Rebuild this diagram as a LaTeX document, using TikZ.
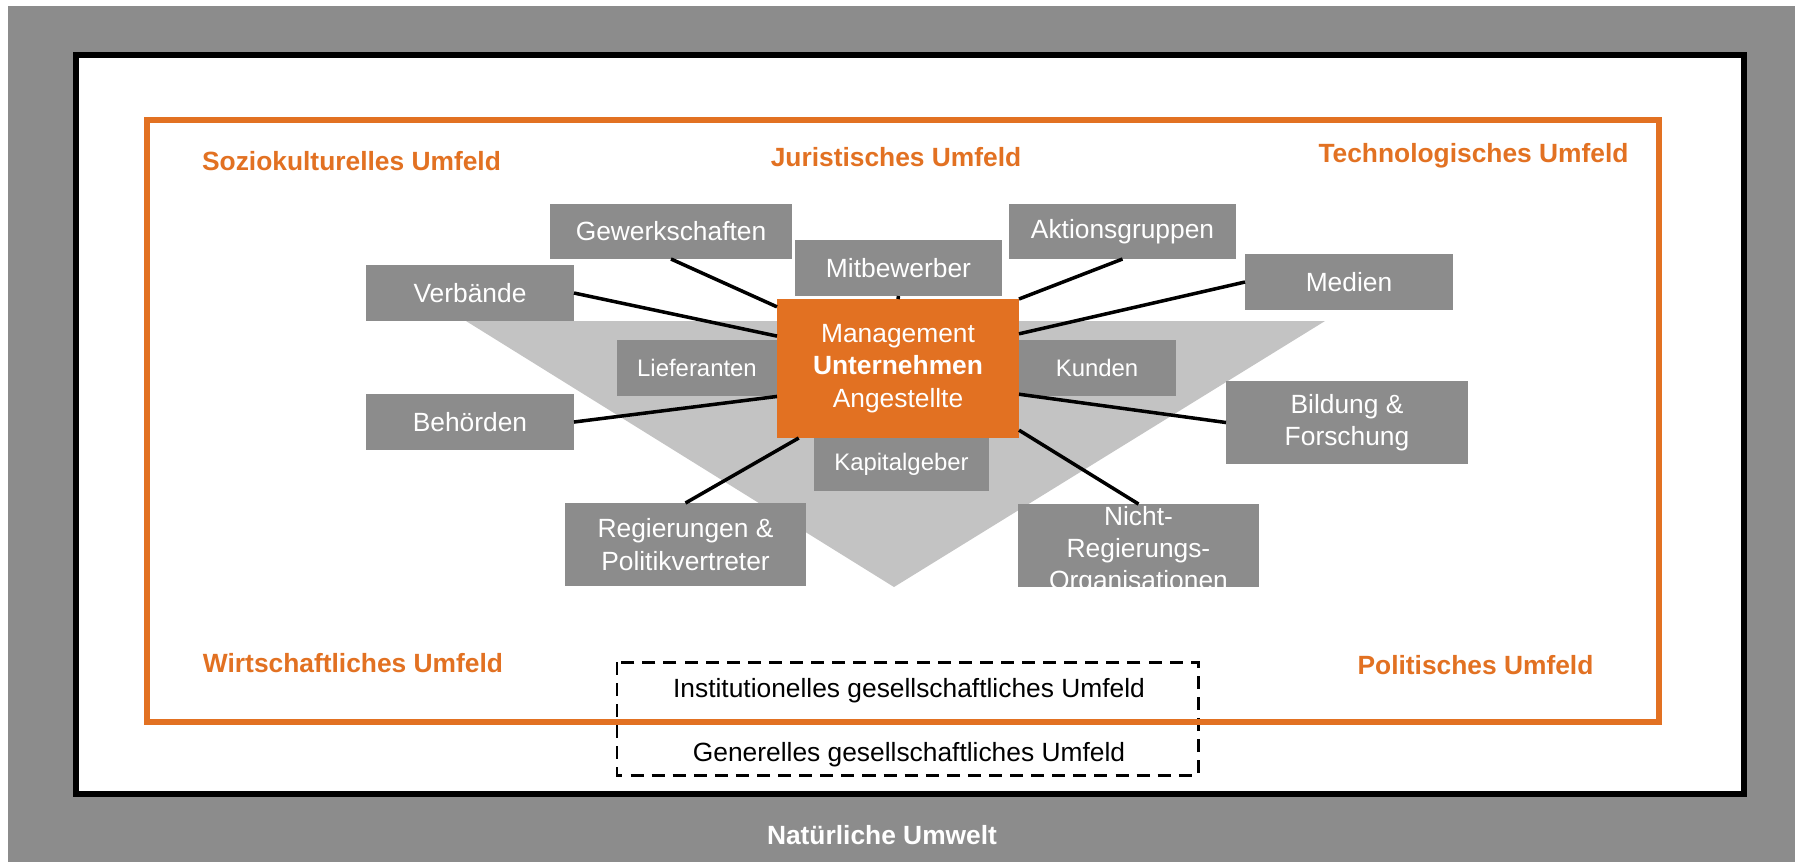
\documentclass[tikz,border=0pt]{standalone}
\usepackage{fontspec}
\setmainfont{Liberation Sans}

\definecolor{umorange}{RGB}{226,113,34}
\definecolor{umgrey}{RGB}{140,140,140}
\definecolor{umlight}{RGB}{195,195,195}

\newcommand{\umfont}{\fontsize{7.5pt}{9.2pt}\selectfont}
\newcommand{\umsmall}{\fontsize{6.8pt}{8.4pt}\selectfont}

\tikzset{
  gruppe/.style={fill=umgrey,text=white,font=\umfont,align=center,inner sep=0pt,outer sep=0pt},
  feld/.style={text=umorange,font=\umfont\bfseries,anchor=base},
  verbindung/.style={line width=1pt}
}

\begin{document}
\begin{tikzpicture}
    \useasboundingbox (0,0) rectangle (17.95,-8.62);

    % The natural environment and the society frame
    \fill[umgrey] (0.08,-0.06) rectangle (17.95,-8.62);
    \draw[line width=1.7pt,fill=white] (0.76,-0.545) rectangle (17.44,-7.94);

    % The dashed box and the orange frame
    \draw[line width=0.85pt,dash pattern=on 3.7pt off 2.3pt] (6.17,-6.62) rectangle (11.98,-7.75);
    \draw[umorange,line width=1.5pt] (1.47,-1.20) rectangle (16.59,-7.22);

    % The grey triangle
    \fill[umlight] (4.66,-3.21) -- (13.25,-3.21) -- (8.94,-5.87) -- cycle;

    % The orange labels
    \node[feld] (sozio) at (3.515,-1.70) {Soziokulturelles Umfeld};
    \node[feld] (jur) at (8.96,-1.66) {Juristisches Umfeld};
    \node[feld] (tech) at (14.735,-1.62) {Technologisches Umfeld};
    \node[feld] (wirt) at (3.53,-6.72) {Wirtschaftliches Umfeld};
    \node[feld] (pol) at (14.755,-6.74) {Politisches Umfeld};

    % The texts at the bottom
    \node[anchor=base,font=\umfont] (inst) at (9.09,-6.97) {Institutionelles gesellschaftliches Umfeld};
    \node[anchor=base,font=\umfont] (gen) at (9.09,-7.61) {Generelles gesellschaftliches Umfeld};
    \node[anchor=base,font=\umfont\bfseries,text=white] (natur) at (8.82,-8.44) {Natürliche Umwelt};

    % The stakeholder boxes
    \node[gruppe,minimum width=2.42cm,minimum height=0.55cm] (gew) at (6.71,-2.315) {Gewerkschaften};
    \node[gruppe,minimum width=2.08cm,minimum height=0.56cm] (verb) at (4.70,-2.93) {Verbände};
    \node[gruppe,minimum width=2.07cm,minimum height=0.56cm] (mitb) at (8.985,-2.68) {Mitbewerber};
    \node[gruppe,minimum width=2.27cm,minimum height=0.55cm] (akt) at (11.225,-2.315) {Aktionsgruppen};
    \node[gruppe,minimum width=2.08cm,minimum height=0.56cm] (med) at (13.49,-2.82) {Medien};
    \node[gruppe,font=\umsmall,minimum width=1.60cm,minimum height=0.56cm] (lief) at (6.97,-3.68) {Lieferanten};
    \node[gruppe,font=\umsmall,minimum width=1.58cm,minimum height=0.56cm] (kund) at (10.97,-3.68) {Kunden};
    \node[gruppe,minimum width=2.08cm,minimum height=0.56cm] (beh) at (4.70,-4.22) {Behörden};
    \node[gruppe,minimum width=2.42cm,minimum height=0.83cm] (bild) at (13.47,-4.225) {Bildung \&\\Forschung};
    \node[gruppe,font=\umsmall,minimum width=1.75cm,minimum height=0.53cm] (kap) at (9.015,-4.645) {Kapitalgeber};
    \node[gruppe,minimum width=2.41cm,minimum height=0.83cm] (reg) at (6.855,-5.445) {Regierungen \&\\Politikvertreter};
    \node[gruppe,minimum width=2.41cm,minimum height=0.83cm] (nro) at (11.385,-5.455) {};
    \begin{scope}
      \clip (nro.south west) rectangle (nro.north east);
      \node[gruppe,fill=none,anchor=north] (nrotext) at ([yshift=-0.02cm]nro.north) {Nicht-\\Regierungs-\\Organisationen};
    \end{scope}

    % The company in the middle
    \node[gruppe,fill=umorange,minimum width=2.42cm,minimum height=1.39cm] (mgmt) at (8.98,-3.685) {Management\\\textbf{Unternehmen}\\Angestellte};

    % The lines to the company
    \draw[verbindung] (gew.south) -- (mgmt.153);
    \draw[verbindung] (verb.east) -- (mgmt.165);
    \draw[verbindung] (beh.east) -- (mgmt.193);
    \draw[verbindung] (reg.north) -- (mgmt.215);
    \draw[verbindung] (mitb.south) -- (mgmt.north);
    \draw[verbindung] (akt.south) -- (mgmt.north east);
    \draw[verbindung] (med.west) -- (mgmt.16);
    \draw[verbindung] (bild.west) -- (mgmt.348);
    \draw[verbindung] (nro.north) -- (mgmt.333);
\end{tikzpicture}
\end{document}
